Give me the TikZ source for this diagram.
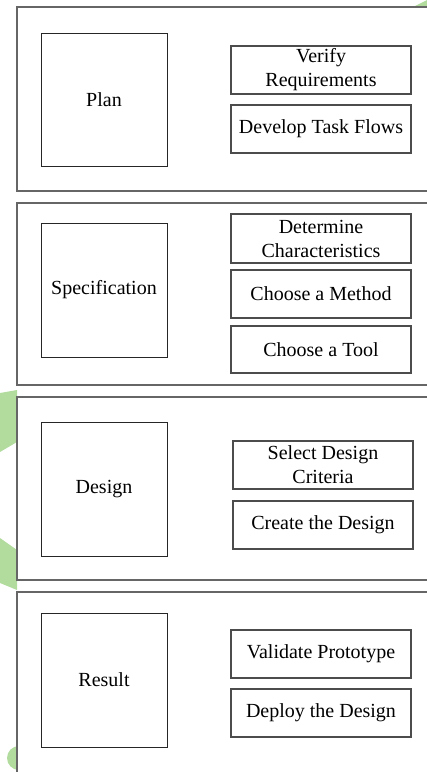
\documentclass[tikz,border=0pt]{standalone}
\usepackage{fontspec}
\setmainfont{Liberation Serif}
\definecolor{leaf}{RGB}{178,220,158}
\begin{document}
\begin{tikzpicture}[x=1pt,y=-1pt,
  frame/.style={draw=black!60,line width=1.6pt,fill=white},
  stage/.style={draw=black!85,line width=1pt,minimum width=126pt,minimum height=134pt,inner sep=0pt,font=\fontsize{20}{24}\selectfont},
  task/.style={draw=black!70,line width=1.2pt,minimum width=180pt,minimum height=48pt,inner sep=0pt,align=center,font=\fontsize{20}{24}\selectfont}]
  \useasboundingbox (0,0) rectangle (427,772);
  \clip (0,0) rectangle (427,772);
  % green pieces of the page behind
  \fill[leaf] (0,393) -- (17,390) -- (17,442) -- (0,452) -- cycle;
  \fill[leaf] (0,538) -- (17,550) -- (17,590) -- (0,583) -- cycle;
  \fill[leaf] (19,758) circle (12);
  \fill[leaf] (413,7) -- (427,0) -- (427,7) -- cycle;
  % outer frames, one per phase
  \draw[frame] (17,7) rectangle (440,191);
  \draw[frame] (17,203) rectangle (440,385);
  \draw[frame] (17,397) rectangle (440,580);
  \draw[frame] (17,592) rectangle (440,800);
  % Plan
  \node[stage,minimum height=133pt] (plan) at (104,99.5) {Plan};
  \node[task] (verify) at (321,70) {Verify\\Requirements};
  \node[task] (develop) at (321,129) {Develop Task Flows};
  % Specification
  \node[stage] (spec) at (104,290) {Specification};
  \node[task,minimum height=49pt] (determine) at (321,238.5) {Determine\\Characteristics};
  \node[task] (method) at (321,294) {Choose a Method};
  \node[task,minimum height=47pt] (tool) at (321,349.5) {Choose a Tool};
  % Design
  \node[stage] (design) at (104,489) {Design};
  \node[task] (criteria) at (323,465) {Select Design\\Criteria};
  \node[task] (create) at (323,525) {Create the Design};
  % Result
  \node[stage] (result) at (104,680) {Result};
  \node[task] (validate) at (321,654) {Validate Prototype};
  \node[task] (deploy) at (321,713) {Deploy the Design};
\end{tikzpicture}
\end{document}
